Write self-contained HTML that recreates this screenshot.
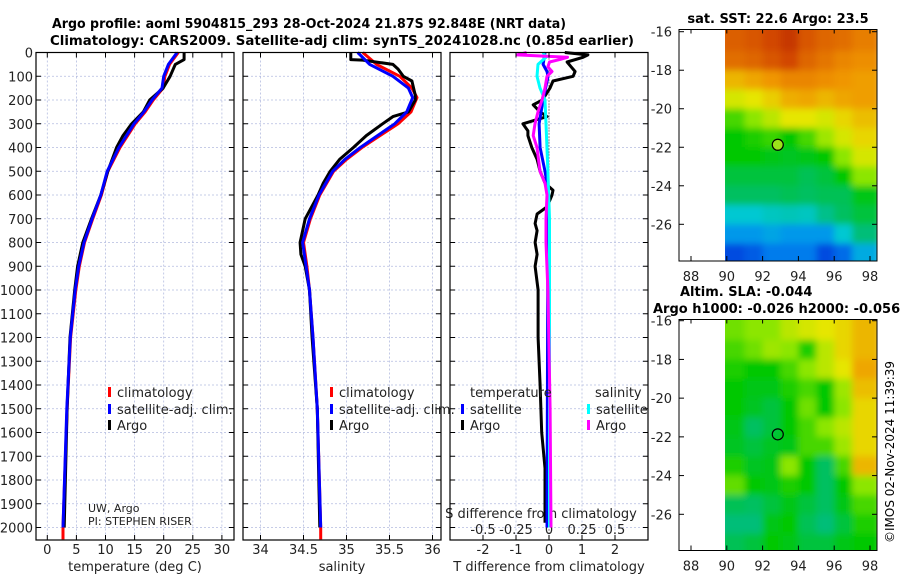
<!DOCTYPE html>
<html><head><meta charset="utf-8">
<style>
html,body{margin:0;padding:0;background:#fff;}
svg{display:block;font-family:"DejaVu Sans","Liberation Sans",sans-serif;}
</style></head>
<body>
<svg id="fig" width="900" height="580" viewBox="0 0 900 580" xmlns="http://www.w3.org/2000/svg">
<defs>
<filter id="blur" x="-5%" y="-5%" width="110%" height="110%"><feGaussianBlur stdDeviation="3.5"/></filter>
<clipPath id="clipSST"><rect x="725" y="29.5" width="152" height="231.5"/></clipPath>
<clipPath id="clipSLA"><rect x="725" y="319.5" width="152" height="231"/></clipPath>
</defs>
<text x="309" y="28" font-size="13" font-weight="bold" text-anchor="middle" textLength="514" lengthAdjust="spacingAndGlyphs">Argo profile: aoml 5904815_293 28-Oct-2024 21.87S 92.848E (NRT data)</text>
<text x="342" y="45" font-size="13" font-weight="bold" text-anchor="middle" textLength="584" lengthAdjust="spacingAndGlyphs">Climatology: CARS2009. Satellite-adj clim: synTS_20241028.nc (0.85d earlier)</text>
<text x="778" y="23" font-size="13" font-weight="bold" text-anchor="middle">sat. SST: 22.6 Argo: 23.5</text>
<text x="680" y="296" font-size="13" font-weight="bold">Altim. SLA: -0.044</text>
<text x="653" y="313" font-size="13" font-weight="bold">Argo h1000: -0.026 h2000: -0.056</text>
<text transform="translate(894,452) rotate(-90)" font-size="12" text-anchor="middle">©IMOS 02-Nov-2024 11:39:39</text>
<g id="root"></g>
</svg>
<script>
// ---------- data ----------
const depthTicks=[0,100,200,300,400,500,600,700,800,900,1000,1100,1200,1300,1400,1500,1600,1700,1800,1900,2000];
const tTicks=[0,5,10,15,20,25,30];
const sTicks=[34,34.5,35,35.5,36];
const dTTicks=[-2,-1,0,1,2];
const dSTicks=[-0.5,-0.25,0,0.25,0.5];
const dSTickLabels=["-0.5","-0.25","0","0.25","0.5"];
const latTicks=[-16,-18,-20,-22,-24,-26];
const lonTicks=[88,90,92,94,96,98];

const tArgoDepth=[0,10,30,50,100,150,200,250,300,350,400,500,600,700,800,900,1000,1200,1500,2000];
const tArgo=[23.5,23.5,23.5,22.0,21.1,19.9,17.6,16.5,14.5,13.0,11.9,10.4,9.2,7.6,6.1,5.2,4.7,3.9,3.4,2.9];
const tClimDepth=[0,50,100,150,200,250,300,400,500,600,700,800,900,1000,1200,1500,2000,2050];
const tClim=[22.5,21.0,20.2,19.9,18.2,16.8,15.1,12.5,10.4,9.3,7.8,6.4,5.5,4.9,4.0,3.4,2.7,2.7];
const tSat=[22.3,20.8,20.0,19.7,18.0,16.6,14.9,12.3,10.3,9.2,7.7,6.3,5.4,4.8,3.95,3.35,2.7,2.7];

const sArgoDepth=[0,30,32,50,70,100,120,180,200,250,270,300,350,400,450,500,550,600,700,800,850,900,1000,1200,1500,2000];
const sArgo=[35.05,35.05,35.19,35.54,35.60,35.66,35.76,35.80,35.80,35.72,35.54,35.42,35.23,35.08,34.92,34.81,34.73,34.67,34.52,34.46,34.47,34.52,34.57,34.60,34.66,34.69];
const sClimDepth=[0,50,100,150,190,250,300,350,400,450,500,600,700,800,900,1000,1200,1500,2000,2050];
const sClim=[35.19,35.35,35.62,35.76,35.82,35.75,35.60,35.39,35.18,35.00,34.85,34.69,34.58,34.50,34.54,34.57,34.61,34.66,34.70,34.70];
const sSat=[35.13,35.27,35.54,35.72,35.77,35.70,35.56,35.36,35.16,34.98,34.84,34.68,34.57,34.49,34.53,34.57,34.61,34.66,34.70,34.70];

const dTArgoDepth=[0,10,20,40,60,80,100,120,150,200,220,250,270,300,330,350,400,450,500,550,580,600,650,680,720,750,800,850,900,1000,1200,1400,1600,1750,1980];
const dTArgo=[0.48,1.18,1.03,0.55,0.67,0.79,0.73,0.12,0.03,-0.2,-0.48,-0.27,-0.06,-0.79,-0.64,-0.64,-0.52,-0.36,-0.27,-0.12,0.12,0.09,-0.06,-0.36,-0.42,-0.36,-0.42,-0.36,-0.42,-0.33,-0.33,-0.27,-0.22,-0.12,-0.12];
const dTSatDepth=[0,50,80,100,200,300,400,500,550,600,2000];
const dTSat=[-0.12,-0.18,-0.06,-0.03,-0.18,-0.3,-0.27,-0.12,-0.06,-0.03,-0.06];
const dSSatDepth=[0,20,50,100,150,200,300,500,700,2000];
const dSSat=[-0.045,-0.023,-0.083,-0.091,-0.068,-0.03,-0.023,-0.008,0.004,0.004];
const dSArgoDepth=[0,10,20,30,40,60,80,100,150,200,250,300,350,400,500,550,600,700,800,1000,1500,2000];
const dSArgo=[-0.17,-0.24,0.14,0.08,0.004,-0.008,0.023,-0.015,-0.03,-0.053,-0.083,-0.106,-0.12,-0.091,-0.068,-0.03,-0.015,-0.023,-0.023,-0.008,0.008,0.015];

const mapLons=[90,91,92,93,94,95,96,97];
const mapLats=[-16,-17,-18,-19,-20,-21,-22,-23,-24,-25,-26,-27];
const sstGrid=[
[0.87,0.88,0.90,0.92,0.88,0.86,0.85,0.83],
[0.85,0.86,0.88,0.90,0.86,0.84,0.82,0.81],
[0.76,0.78,0.80,0.82,0.82,0.81,0.80,0.79],
[0.68,0.70,0.73,0.77,0.78,0.76,0.78,0.79],
[0.55,0.60,0.65,0.70,0.70,0.68,0.72,0.75],
[0.50,0.52,0.54,0.50,0.55,0.62,0.68,0.72],
[0.50,0.50,0.48,0.47,0.48,0.50,0.60,0.68],
[0.45,0.45,0.45,0.45,0.43,0.45,0.50,0.60],
[0.42,0.42,0.42,0.43,0.42,0.43,0.43,0.48],
[0.30,0.30,0.32,0.33,0.32,0.38,0.42,0.45],
[0.22,0.22,0.24,0.22,0.22,0.22,0.30,0.40],
[0.12,0.14,0.18,0.18,0.18,0.12,0.16,0.25]];
const slaGrid=[
[0.58,0.60,0.60,0.65,0.68,0.70,0.72,0.76],
[0.55,0.58,0.62,0.60,0.52,0.65,0.72,0.76],
[0.52,0.50,0.50,0.55,0.60,0.65,0.70,0.78],
[0.50,0.48,0.48,0.52,0.55,0.50,0.62,0.75],
[0.50,0.47,0.45,0.50,0.58,0.50,0.60,0.72],
[0.48,0.42,0.45,0.50,0.55,0.60,0.65,0.72],
[0.47,0.45,0.47,0.48,0.55,0.55,0.62,0.72],
[0.52,0.47,0.48,0.60,0.50,0.42,0.55,0.76],
[0.57,0.50,0.48,0.52,0.50,0.42,0.50,0.60],
[0.43,0.42,0.45,0.48,0.45,0.42,0.48,0.55],
[0.40,0.40,0.48,0.50,0.43,0.40,0.45,0.52],
[0.43,0.45,0.50,0.48,0.45,0.45,0.48,0.50]];
const floatLon=92.848, floatLat=-21.87;

// ---------- helpers ----------
const NS="http://www.w3.org/2000/svg";
const root=document.getElementById('root');
function mk(tag,attrs,parent){const e=document.createElementNS(NS,tag);for(const k in attrs)e.setAttribute(k,attrs[k]);(parent||root).appendChild(e);return e;}
function txt(s,attrs,parent){const e=mk('text',attrs,parent);e.textContent=s;return e;}
const Y0=52.5, PY=0.2375, PBOT=540;
const yD=d=>Y0+d*PY;
const xT=v=>47.3+v*5.82;
const xS=v=>260.5+(v-34)*86;
const xDT=v=>549+v*33;
const xDS=v=>549+v*132;
const panels=[{x0:36,x1:234,name:'temperature-panel'},{x0:243,x1:441,name:'salinity-panel'},{x0:450,x1:648,name:'difference-panel'}];

function panelFrame(p,xticks,xfn){
  const g=mk('g',{});
  
  
  for(const d of depthTicks){const y=yD(d);const l=mk('line',{x1:p.x0,x2:p.x1,y1:y,y2:y,stroke:'#b4bce0','stroke-width':0.8,'stroke-dasharray':'2,2'},g);}
  xticks.forEach(v=>{const x=xfn(v);const l=mk('line',{x1:x,x2:x,y1:Y0,y2:PBOT,stroke:'#b4bce0','stroke-width':0.8,'stroke-dasharray':'2,2'},g);});
  return g;
}
function frameBox(p,xticks,xfn){
  const g=mk('g',{});
  
  
  mk('rect',{x:p.x0,y:Y0,width:p.x1-p.x0,height:PBOT-Y0,fill:'none',stroke:'#000','stroke-width':1.2},g);
  for(const d of depthTicks){const y=yD(d);mk('line',{x1:p.x0,x2:p.x0+5,y1:y,y2:y,stroke:'#000'},g);mk('line',{x1:p.x1-5,x2:p.x1,y1:y,y2:y,stroke:'#000'},g);}
  xticks.forEach(v=>{const x=xfn(v);mk('line',{x1:x,x2:x,y1:PBOT-5,y2:PBOT,stroke:'#000'},g);mk('line',{x1:x,x2:x,y1:Y0,y2:Y0+5,stroke:'#000'},g);});
}
function line(depths,vals,xfn,color,w,name){
  const pts=depths.map((d,i)=>xfn(vals[i]).toFixed(1)+','+yD(d).toFixed(1)).join(' ');
  const e=mk('polyline',{points:pts,fill:'none',stroke:color,'stroke-width':w,'stroke-linejoin':'round'});
  
  
}

panelFrame(panels[0],tTicks,xT);
panelFrame(panels[1],sTicks,xS);
panelFrame(panels[2],dTTicks,xDT);

for(const d of depthTicks){const t=txt(String(d),{x:33,y:yD(d)+5,'font-size':13,'text-anchor':'end',fill:'#222'});}
tTicks.forEach(v=>{const t=txt(String(v),{x:xT(v),y:554,'font-size':13,'text-anchor':'middle',fill:'#222'});});
sTicks.forEach(v=>{const t=txt(String(v),{x:xS(v),y:554,'font-size':13,'text-anchor':'middle',fill:'#222'});});
dTTicks.forEach(v=>{const t=txt(String(v),{x:xDT(v),y:554,'font-size':13,'text-anchor':'middle',fill:'#222'});});
dSTicks.forEach((v,i)=>{const t=txt(dSTickLabels[i],{x:xDS(v),y:534,'font-size':13,'text-anchor':'middle',fill:'#222'});});
let a;
a=txt('temperature (deg C)',{x:135,y:571,'font-size':13,'text-anchor':'middle',fill:'#222'});
a=txt('salinity',{x:342,y:571,'font-size':13,'text-anchor':'middle',fill:'#222'});
a=txt('T difference from climatology',{x:549,y:571,'font-size':13,'text-anchor':'middle',fill:'#222'});
a=txt('S difference from climatology',{x:541,y:518,'font-size':13,'text-anchor':'middle',fill:'#222'});
a=txt('UW, Argo',{x:88,y:512,'font-size':11,fill:'#222'});
a=txt('PI: STEPHEN RISER',{x:88,y:525,'font-size':11,fill:'#222'});

mk('line',{x1:549,x2:549,y1:Y0,y2:PBOT,stroke:'#000','stroke-width':0.8,'stroke-dasharray':'1,2'});

line(tClimDepth,tClim,xT,'#ff0000',3,'temp-climatology-line');
line(tArgoDepth,tArgo,xT,'#000',3,'temp-argo-line');
line(tClimDepth.slice(0,-1),tSat.slice(0,-1),xT,'#0000ff',3,'temp-satellite-line');
line(sClimDepth,sClim,xS,'#ff0000',3,'sal-climatology-line');
line(sArgoDepth,sArgo,xS,'#000',3,'sal-argo-line');
line(sClimDepth.slice(0,-1),sSat.slice(0,-1),xS,'#0000ff',3,'sal-satellite-line');
line(dTArgoDepth,dTArgo,xDT,'#000',3,'tdiff-argo-line');
line(dTSatDepth,dTSat,xDT,'#0000ff',3,'tdiff-satellite-line');
line(dSSatDepth,dSSat,xDS,'#00ffff',3,'sdiff-satellite-line');
line(dSArgoDepth,dSArgo,xDS,'#ff00ff',3,'sdiff-argo-line');

frameBox(panels[0],tTicks,xT);
frameBox(panels[1],sTicks,xS);
frameBox(panels[2],dTTicks,xDT);

function legendItem(x,y,color,label,name){
  const g=mk('g',{});
  
  
  mk('rect',{x:x,y:y-10,width:3,height:10,fill:color},g);
  txt(label,{x:x+9,y:y,'font-size':13,fill:'#222'},g);
}
legendItem(108,397,'#ff0000','climatology','legend-temp-climatology');
legendItem(108,414,'#0000ff','satellite-adj. clim.','legend-temp-satellite');
legendItem(108,430,'#000','Argo','legend-temp-argo');
legendItem(330,397,'#ff0000','climatology','legend-sal-climatology');
legendItem(330,414,'#0000ff','satellite-adj. clim.','legend-sal-satellite');
legendItem(330,430,'#000','Argo','legend-sal-argo');
a=txt('temperature',{x:470,y:397,'font-size':13,fill:'#222'});
a=txt('salinity',{x:595,y:397,'font-size':13,fill:'#222'});
legendItem(461,414,'#0000ff','satellite','legend-tdiff-satellite');
legendItem(461,430,'#000','Argo','legend-tdiff-argo');
legendItem(587,414,'#00ffff','satellite','legend-sdiff-satellite');
legendItem(587,430,'#ff00ff','Argo','legend-sdiff-argo');

// ---------- maps ----------
const cmapStops=[[0,0,0,140],[0.1,0,60,220],[0.2,0,140,240],[0.3,0,200,210],[0.4,0,190,120],[0.5,0,200,0],[0.6,140,230,0],[0.7,230,230,0],[0.8,240,150,0],[0.9,210,70,0],[1,150,0,0]];
function cmap(v){
  v=Math.max(0,Math.min(1,v));
  for(let i=1;i<cmapStops.length;i++){const a=cmapStops[i-1],b=cmapStops[i];if(v<=b[0]){const t=(v-a[0])/(b[0]-a[0]);return `rgb(${Math.round(a[1]+t*(b[1]-a[1]))},${Math.round(a[2]+t*(b[2]-a[2]))},${Math.round(a[3]+t*(b[3]-a[3]))})`;}}
  return 'rgb(150,0,0)';
}
const xLon=lon=>691+(lon-88)*17.9;
function drawMap(grid,top,bottom,lat16,latScale,clip,name,fillDot){
  const yLat=lat=>lat16+(-16-lat)*latScale;
  const g=mk('g',{});
  
  
  mk('rect',{x:679,y:top,width:198,height:bottom-top,fill:'#fff'},g);
  const cg=mk('g',{'clip-path':'url(#'+clip+')'},g);
  const bg=mk('g',{filter:'url(#blur)'},cg);
  grid.forEach((row,i)=>row.forEach((v,j)=>{
    const lat=mapLats[i],lon=mapLons[j];
    const x0=xLon(lon),x1=xLon(lon+1),y0=yLat(lat),y1=yLat(lat-1);
    const ex=j===0?-8:0, ex2=j===row.length-1?10:0, ey=i===0?-10:0, ey2=i===grid.length-1?10:0;
    const r=mk('rect',{x:x0+ex,y:y0+ey,width:x1-x0-ex+ex2+0.6,height:y1-y0-ey+ey2+0.6,fill:cmap(v)},bg);
    
    
  }));
  mk('rect',{x:679,y:top,width:198,height:bottom-top,fill:'none',stroke:'#000','stroke-width':1},g);
  latTicks.forEach(l=>{const y=yLat(l);mk('line',{x1:679,x2:684,y1:y,y2:y,stroke:'#000'},g);mk('line',{x1:872,x2:877,y1:y,y2:y,stroke:'#000'},g);
    const t=txt(String(l),{x:672,y:y+5,'font-size':13,'text-anchor':'end',fill:'#222'},g);});
  lonTicks.forEach(l=>{const x=xLon(l);mk('line',{x1:x,x2:x,y1:bottom-5,y2:bottom,stroke:'#000'},g);mk('line',{x1:x,x2:x,y1:top,y2:top+4,stroke:'#000'},g);
    const t=txt(String(l),{x:x,y:bottom+20,'font-size':13,'text-anchor':'middle',fill:'#222'},g);});
  const c=mk('circle',{cx:xLon(floatLon),cy:yLat(floatLat),r:5.5,fill:fillDot,stroke:'#000','stroke-width':1.2},g);
  
  
}
drawMap(sstGrid,29.5,261,31.7,19.26,'clipSST','sst-map','#9be21a');
drawMap(slaGrid,319.5,550.5,320.7,19.36,'clipSLA','sla-map','none');
</script>
</body></html>
